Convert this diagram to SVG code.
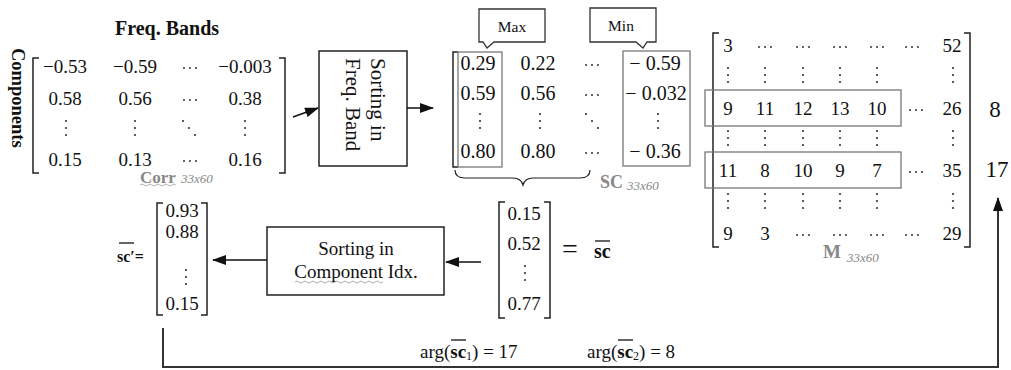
<svg xmlns="http://www.w3.org/2000/svg" xmlns:xlink="http://www.w3.org/1999/xlink" width="1011" height="370" viewBox="0 0 1011 370" font-family="'Liberation Serif', 'DejaVu Serif', serif">
<style>
text{font-family:'Liberation Serif','DejaVu Serif',serif;fill:#111}
.n{font-size:19px}
.c{text-anchor:middle}
.lbl{font-size:17px;font-weight:bold;fill:#888}
.sub{font-size:13px;font-style:italic;fill:#888}
.br{fill:none;stroke:#222;stroke-width:1.5}
.hl{fill:none;stroke:#777;stroke-width:1.3}
.box{fill:#fff;stroke:#222;stroke-width:1.5}
.conn{fill:none;stroke:#111;stroke-width:1.5}
.dot{fill:#333}
.wavy{fill:none;stroke:#999;stroke-width:0.8}
</style>
<defs>
<g id="hd" class="dot"><circle cx="-6" cy="0" r="1"/><circle cx="0" cy="0" r="1"/><circle cx="6" cy="0" r="1"/></g>
<g id="vd" class="dot"><circle cx="0" cy="-7" r="1.1"/><circle cx="0" cy="0" r="1.1"/><circle cx="0" cy="7" r="1.1"/></g>
<g id="dd" class="dot"><circle cx="-6" cy="-7" r="1.1"/><circle cx="0" cy="0" r="1.1"/><circle cx="6" cy="7" r="1.1"/></g>
<marker id="ah" markerWidth="14" markerHeight="10" refX="13" refY="5" orient="auto" markerUnits="userSpaceOnUse"><path d="M0,0 L14,5 L0,10 Z" fill="#111"/></marker>
</defs>

<g id="corr">
<text x="115" y="35" style="font-size:20px;font-weight:bold">Freq. Bands</text>
<text transform="translate(12,48) rotate(90)" style="font-size:18.5px;font-weight:bold">Components</text>
<path class="br" d="M39,58 H33 V173 H39"/>
<path class="br" d="M279,58 H285 V173 H279"/>
<text class="n c" x="65" y="73">−0.53</text>
<text class="n c" x="135" y="73">−0.59</text>
<use xlink:href="#hd" x="190" y="68"/>
<text class="n c" x="245" y="73">−0.003</text>
<text class="n c" x="65" y="105">0.58</text>
<text class="n c" x="135" y="105">0.56</text>
<use xlink:href="#hd" x="190" y="100"/>
<text class="n c" x="245" y="105">0.38</text>
<use xlink:href="#vd" x="66" y="128"/>
<use xlink:href="#vd" x="135" y="128"/>
<use xlink:href="#dd" x="189" y="128"/>
<use xlink:href="#vd" x="245" y="128"/>
<text class="n c" x="65" y="166">0.15</text>
<text class="n c" x="135" y="166">0.13</text>
<use xlink:href="#hd" x="190" y="161"/>
<text class="n c" x="245" y="166">0.16</text>
<text class="lbl" x="140" y="183">Corr</text>
<path class="wavy" d="M140,185 q2,-2 4,0 t4,0 t4,0 t4,0 t4,0 t4,0 t4,0 t4,0 t4,0"/>
<text class="sub" x="181" y="183">33x60</text>
</g>

<g id="sort-freq">
<rect class="box" x="319" y="51" width="88" height="115"/>
<text transform="translate(371,58) rotate(90)" style="font-size:21px">Sorting in</text>
<text transform="translate(346,58) rotate(90)" style="font-size:21px">Freq. Band</text>
</g>

<g id="sc">
<path d="M479,9 H545 V42 H494 L487,48 L483,42 H479 Z" fill="#fff" stroke="#333" stroke-width="1.3"/>
<text x="512" y="32" class="c" style="font-size:15.5px">Max</text>
<path d="M590,8 H656 V42 H647 L643,48 L636,42 H590 Z" fill="#fff" stroke="#333" stroke-width="1.3"/>
<text x="621" y="31" class="c" style="font-size:15.5px">Min</text>
<path class="br" d="M458,52 H453 V167 H458"/>
<rect class="hl" x="458" y="52" width="44" height="115"/>
<rect class="hl" x="623" y="51" width="67" height="115"/>
<text class="n c" x="478" y="70" style="font-size:20px">0.29</text>
<text class="n c" x="478" y="100" style="font-size:20px">0.59</text>
<use xlink:href="#vd" x="480" y="121"/>
<text class="n c" x="478" y="158" style="font-size:20px">0.80</text>
<text class="n c" x="538" y="70" style="font-size:20px">0.22</text>
<text class="n c" x="538" y="100" style="font-size:20px">0.56</text>
<use xlink:href="#vd" x="540" y="121"/>
<text class="n c" x="538" y="158" style="font-size:20px">0.80</text>
<use xlink:href="#hd" x="592" y="65"/>
<use xlink:href="#hd" x="592" y="95"/>
<use xlink:href="#dd" x="592" y="121"/>
<use xlink:href="#hd" x="592" y="153"/>
<text class="n c" x="655" y="70" style="font-size:20px">− 0.59</text>
<text class="n c" x="656" y="100" style="font-size:20px">− 0.032</text>
<use xlink:href="#vd" x="658" y="121"/>
<text class="n c" x="655" y="158" style="font-size:20px">− 0.36</text>
<path d="M455,170 Q455,178 465,178 L513,178 Q521,178 523,185 Q525,178 533,178 L580,178 Q590,178 590,170" fill="none" stroke="#222" stroke-width="1.2"/>
<text class="lbl" x="600" y="188" style="font-size:18px">SC</text>
<text class="sub" x="627" y="190">33x60</text>
</g>

<g id="m">
<path class="br" d="M719,33 H713 V247 H719"/>
<path class="br" d="M964,33 H970 V247 H964"/>
<rect class="hl" x="705" y="90" width="196" height="36"/>
<rect class="hl" x="705" y="152" width="196" height="36"/>
<g class="n c">
<text x="728" y="52">3</text>
<text x="952" y="52">52</text>
<text x="728" y="115">9</text><text x="765" y="115">11</text><text x="803" y="115">12</text><text x="840" y="115">13</text><text x="877" y="115">10</text><text x="952" y="115">26</text>
<text x="728" y="177">11</text><text x="765" y="177">8</text><text x="803" y="177">10</text><text x="840" y="177">9</text><text x="877" y="177">7</text><text x="952" y="177">35</text>
<text x="728" y="240">9</text><text x="765" y="240">3</text><text x="952" y="240">29</text>
</g>
<use xlink:href="#hd" x="765" y="47"/><use xlink:href="#hd" x="803" y="47"/><use xlink:href="#hd" x="840" y="47"/><use xlink:href="#hd" x="877" y="47"/><use xlink:href="#hd" x="912" y="47"/>
<use xlink:href="#vd" x="728" y="75"/><use xlink:href="#vd" x="765" y="75"/><use xlink:href="#vd" x="803" y="75"/><use xlink:href="#vd" x="840" y="75"/><use xlink:href="#vd" x="877" y="75"/><use xlink:href="#vd" x="953" y="75"/>
<use xlink:href="#hd" x="916" y="110"/>
<use xlink:href="#vd" x="728" y="138"/><use xlink:href="#vd" x="765" y="138"/><use xlink:href="#vd" x="803" y="138"/><use xlink:href="#vd" x="840" y="138"/><use xlink:href="#vd" x="877" y="138"/><use xlink:href="#vd" x="953" y="138"/>
<use xlink:href="#hd" x="916" y="172"/>
<use xlink:href="#vd" x="728" y="201"/><use xlink:href="#vd" x="765" y="201"/><use xlink:href="#vd" x="803" y="201"/><use xlink:href="#vd" x="840" y="201"/><use xlink:href="#vd" x="877" y="201"/><use xlink:href="#vd" x="953" y="201"/>
<use xlink:href="#hd" x="803" y="235"/><use xlink:href="#hd" x="840" y="235"/><use xlink:href="#hd" x="877" y="235"/><use xlink:href="#hd" x="912" y="235"/>
<text class="c" x="995" y="117" style="font-size:23px">8</text>
<text class="c" x="997" y="177" style="font-size:23px">17</text>
<text x="823" y="258" style="font-size:19px;font-weight:bold;fill:#888">M</text>
<text class="sub" x="847" y="262">33x60</text>
</g>

<g id="sc-vec">
<path class="br" d="M505,202 H499 V318 H505"/>
<path class="br" d="M544,202 H550 V318 H544"/>
<text class="n c" x="524" y="220">0.15</text>
<text class="n c" x="524" y="250">0.52</text>
<use xlink:href="#vd" x="525" y="273"/>
<text class="n c" x="524" y="310">0.77</text>
<text x="562" y="258" style="font-size:28px">=</text>
<text x="594" y="258" style="font-size:20px;font-weight:bold">sc</text>
<line x1="595" y1="241" x2="610" y2="241" stroke="#111" stroke-width="1.3"/>
</g>

<g id="sort-comp">
<rect class="box" x="267" y="227" width="177" height="68"/>
<text class="c" x="356" y="255" style="font-size:19px">Sorting in</text>
<text class="c" x="356" y="278" style="font-size:19px">Component Idx.</text>
<path class="wavy" d="M295,282 q2,-2 4,0 t4,0 t4,0 t4,0 t4,0 t4,0 t4,0 t4,0 t4,0 t4,0 t4,0 t4,0 t4,0 t4,0 t4,0 t4,0 t4,0 t4,0 t4,0 t4,0 t4,0 t4,0"/>
</g>

<g id="scp-vec">
<text x="117" y="262" style="font-size:16px;font-weight:bold">sc′=</text>
<line x1="119" y1="243" x2="134" y2="243" stroke="#111" stroke-width="1.3"/>
<path class="br" d="M163,203 H157 V315 H163"/>
<path class="br" d="M201,203 H207 V315 H201"/>
<text class="n c" x="182" y="217">0.93</text>
<text class="n c" x="182" y="238">0.88</text>
<use xlink:href="#vd" x="186" y="277"/>
<text class="n c" x="182" y="310">0.15</text>
</g>

<g id="args">
<text x="420" y="358" style="font-size:19px">arg(<tspan font-weight="bold">sc</tspan><tspan font-size="12" dy="2">1</tspan><tspan dy="-2">) = 17</tspan></text>
<line x1="451" y1="340" x2="466" y2="340" stroke="#111" stroke-width="1.3"/>
<text x="587" y="358" style="font-size:19px">arg(<tspan font-weight="bold">sc</tspan><tspan font-size="12" dy="2">2</tspan><tspan dy="-2">) = 8</tspan></text>
<line x1="618" y1="340" x2="633" y2="340" stroke="#111" stroke-width="1.3"/>
</g>

<g id="connectors">
<line class="conn" x1="293" y1="117" x2="318" y2="108" marker-end="url(#ah)"/>
<line class="conn" x1="407" y1="108" x2="433" y2="108" marker-end="url(#ah)"/>
<line class="conn" x1="267" y1="260" x2="213" y2="260" marker-end="url(#ah)"/>
<line class="conn" x1="481" y1="262" x2="446" y2="262" marker-end="url(#ah)"/>
<path class="conn" d="M163,328 V367 H998 V198" style="stroke:#333;stroke-width:2" marker-end="url(#ah)"/>
</g>
</svg>
